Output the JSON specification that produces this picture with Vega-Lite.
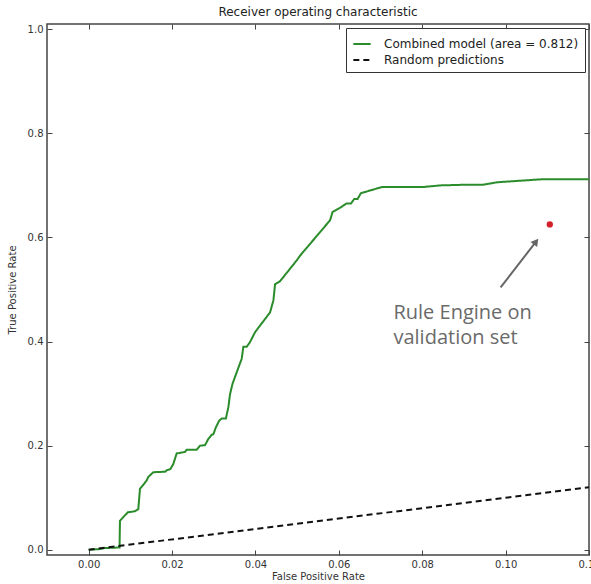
{
  "$schema": "https://vega.github.io/schema/vega-lite/v6.json",
  "autosize": "none",
  "width": 542,
  "height": 531,
  "padding": {"left": 47, "top": 24, "right": 2, "bottom": 29},
  "background": "white",
  "title": {"text": "Receiver operating characteristic", "fontSize": 12, "font": "DejaVu Sans", "fontWeight": "normal", "color": "#222", "offset": 5},
  "config": {
    "view": {"stroke": "#444", "strokeWidth": 1.5},
    "axis": {"grid": false, "domain": false, "tickColor": "#444", "tickSize": -5, "labelFont": "DejaVu Sans", "labelFontSize": 10, "labelColor": "#333", "titleFont": "DejaVu Sans", "titleFontSize": 10, "titleFontWeight": "normal", "titleColor": "#333"}
  },
  "datasets": {
    "roc": [
      {"series": "Combined model (area = 0.812)", "i": 0, "fpr": 0.0, "tpr": 0.0},
      {"series": "Combined model (area = 0.812)", "i": 1, "fpr": 0.0026, "tpr": 0.0013},
      {"series": "Combined model (area = 0.812)", "i": 2, "fpr": 0.0038, "tpr": 0.0033},
      {"series": "Combined model (area = 0.812)", "i": 3, "fpr": 0.0074, "tpr": 0.0044},
      {"series": "Combined model (area = 0.812)", "i": 4, "fpr": 0.0075, "tpr": 0.0558},
      {"series": "Combined model (area = 0.812)", "i": 5, "fpr": 0.0082, "tpr": 0.062},
      {"series": "Combined model (area = 0.812)", "i": 6, "fpr": 0.0094, "tpr": 0.072},
      {"series": "Combined model (area = 0.812)", "i": 7, "fpr": 0.0111, "tpr": 0.074},
      {"series": "Combined model (area = 0.812)", "i": 8, "fpr": 0.0119, "tpr": 0.078},
      {"series": "Combined model (area = 0.812)", "i": 9, "fpr": 0.0123, "tpr": 0.117},
      {"series": "Combined model (area = 0.812)", "i": 10, "fpr": 0.0131, "tpr": 0.125},
      {"series": "Combined model (area = 0.812)", "i": 11, "fpr": 0.0139, "tpr": 0.133},
      {"series": "Combined model (area = 0.812)", "i": 12, "fpr": 0.0143, "tpr": 0.14},
      {"series": "Combined model (area = 0.812)", "i": 13, "fpr": 0.0155, "tpr": 0.149},
      {"series": "Combined model (area = 0.812)", "i": 14, "fpr": 0.0183, "tpr": 0.15},
      {"series": "Combined model (area = 0.812)", "i": 15, "fpr": 0.0188, "tpr": 0.153},
      {"series": "Combined model (area = 0.812)", "i": 16, "fpr": 0.0196, "tpr": 0.155},
      {"series": "Combined model (area = 0.812)", "i": 17, "fpr": 0.0203, "tpr": 0.165},
      {"series": "Combined model (area = 0.812)", "i": 18, "fpr": 0.0211, "tpr": 0.185},
      {"series": "Combined model (area = 0.812)", "i": 19, "fpr": 0.0231, "tpr": 0.188},
      {"series": "Combined model (area = 0.812)", "i": 20, "fpr": 0.0235, "tpr": 0.192},
      {"series": "Combined model (area = 0.812)", "i": 21, "fpr": 0.0259, "tpr": 0.192},
      {"series": "Combined model (area = 0.812)", "i": 22, "fpr": 0.0267, "tpr": 0.2},
      {"series": "Combined model (area = 0.812)", "i": 23, "fpr": 0.0279, "tpr": 0.201},
      {"series": "Combined model (area = 0.812)", "i": 24, "fpr": 0.0287, "tpr": 0.213},
      {"series": "Combined model (area = 0.812)", "i": 25, "fpr": 0.0295, "tpr": 0.221},
      {"series": "Combined model (area = 0.812)", "i": 26, "fpr": 0.0299, "tpr": 0.222},
      {"series": "Combined model (area = 0.812)", "i": 27, "fpr": 0.0305, "tpr": 0.235},
      {"series": "Combined model (area = 0.812)", "i": 28, "fpr": 0.0313, "tpr": 0.248},
      {"series": "Combined model (area = 0.812)", "i": 29, "fpr": 0.0319, "tpr": 0.252},
      {"series": "Combined model (area = 0.812)", "i": 30, "fpr": 0.0329, "tpr": 0.252},
      {"series": "Combined model (area = 0.812)", "i": 31, "fpr": 0.0335, "tpr": 0.274},
      {"series": "Combined model (area = 0.812)", "i": 32, "fpr": 0.0339, "tpr": 0.299},
      {"series": "Combined model (area = 0.812)", "i": 33, "fpr": 0.0345, "tpr": 0.319},
      {"series": "Combined model (area = 0.812)", "i": 34, "fpr": 0.0355, "tpr": 0.341},
      {"series": "Combined model (area = 0.812)", "i": 35, "fpr": 0.0367, "tpr": 0.367},
      {"series": "Combined model (area = 0.812)", "i": 36, "fpr": 0.0371, "tpr": 0.39},
      {"series": "Combined model (area = 0.812)", "i": 37, "fpr": 0.0379, "tpr": 0.39},
      {"series": "Combined model (area = 0.812)", "i": 38, "fpr": 0.0387, "tpr": 0.399},
      {"series": "Combined model (area = 0.812)", "i": 39, "fpr": 0.0399, "tpr": 0.418},
      {"series": "Combined model (area = 0.812)", "i": 40, "fpr": 0.0435, "tpr": 0.456},
      {"series": "Combined model (area = 0.812)", "i": 41, "fpr": 0.0443, "tpr": 0.479},
      {"series": "Combined model (area = 0.812)", "i": 42, "fpr": 0.0447, "tpr": 0.51},
      {"series": "Combined model (area = 0.812)", "i": 43, "fpr": 0.0459, "tpr": 0.516},
      {"series": "Combined model (area = 0.812)", "i": 44, "fpr": 0.0499, "tpr": 0.556},
      {"series": "Combined model (area = 0.812)", "i": 45, "fpr": 0.0507, "tpr": 0.565},
      {"series": "Combined model (area = 0.812)", "i": 46, "fpr": 0.0579, "tpr": 0.633},
      {"series": "Combined model (area = 0.812)", "i": 47, "fpr": 0.0585, "tpr": 0.649},
      {"series": "Combined model (area = 0.812)", "i": 48, "fpr": 0.0603, "tpr": 0.657},
      {"series": "Combined model (area = 0.812)", "i": 49, "fpr": 0.0618, "tpr": 0.665},
      {"series": "Combined model (area = 0.812)", "i": 50, "fpr": 0.0629, "tpr": 0.665},
      {"series": "Combined model (area = 0.812)", "i": 51, "fpr": 0.0637, "tpr": 0.674},
      {"series": "Combined model (area = 0.812)", "i": 52, "fpr": 0.0645, "tpr": 0.674},
      {"series": "Combined model (area = 0.812)", "i": 53, "fpr": 0.0653, "tpr": 0.685},
      {"series": "Combined model (area = 0.812)", "i": 54, "fpr": 0.0704, "tpr": 0.697},
      {"series": "Combined model (area = 0.812)", "i": 55, "fpr": 0.0804, "tpr": 0.697},
      {"series": "Combined model (area = 0.812)", "i": 56, "fpr": 0.0844, "tpr": 0.7},
      {"series": "Combined model (area = 0.812)", "i": 57, "fpr": 0.0892, "tpr": 0.701},
      {"series": "Combined model (area = 0.812)", "i": 58, "fpr": 0.0944, "tpr": 0.701},
      {"series": "Combined model (area = 0.812)", "i": 59, "fpr": 0.098, "tpr": 0.706},
      {"series": "Combined model (area = 0.812)", "i": 60, "fpr": 0.1092, "tpr": 0.712},
      {"series": "Combined model (area = 0.812)", "i": 61, "fpr": 0.125, "tpr": 0.712},
      {"series": "Random predictions", "i": 0, "fpr": 0.0, "tpr": 0.0},
      {"series": "Random predictions", "i": 1, "fpr": 0.125, "tpr": 0.125}
    ],
    "rule_engine": [{"fpr": 0.1106, "tpr": 0.625}],
    "arrow": [{"fpr": 0.0988, "tpr": 0.504, "fpr2": 0.1073, "tpr2": 0.592}],
    "notes": [
      {"label": "Rule Engine on", "fpr": 0.0731, "tpr": 0.454},
      {"label": "validation set", "fpr": 0.0731, "tpr": 0.406}
    ]
  },
  "layer": [
    {
      "layer": [
        {
          "data": {"name": "roc"},
          "mark": {"type": "line", "clip": true, "strokeWidth": 2, "interpolate": "linear"},
          "encoding": {
            "x": {"field": "fpr", "type": "quantitative", "scale": {"domain": [-0.01, 0.12], "nice": false, "zero": false}, "axis": {"title": "False Positive Rate", "values": [0, 0.02, 0.04, 0.06, 0.08, 0.1, 0.12], "format": ".2f", "labelPadding": 9, "titlePadding": 2, "labelFlush": false}},
            "y": {"field": "tpr", "type": "quantitative", "scale": {"domain": [-0.01, 1.01], "nice": false, "zero": false}, "axis": {"title": "True Positive Rate", "values": [0, 0.2, 0.4, 0.6, 0.8, 1.0], "format": ".1f", "labelPadding": 9, "titlePadding": 10, "labelFlush": false}},
            "order": {"field": "i", "type": "quantitative"},
            "color": {"field": "series", "type": "nominal", "title": null, "scale": {"domain": ["Combined model (area = 0.812)", "Random predictions"], "range": ["#2a8c2a", "#111111"]}, "legend": {"orient": "top-right", "offset": 4, "strokeColor": "#333", "fillColor": "white", "padding": 6, "labelFont": "DejaVu Sans", "labelFontSize": 12, "labelColor": "#222", "labelLimit": 0, "symbolType": "stroke", "symbolSize": 300, "symbolStrokeWidth": 2, "rowPadding": 0, "labelOffset": 12}},
            "strokeDash": {"field": "series", "type": "nominal", "title": null, "scale": {"domain": ["Combined model (area = 0.812)", "Random predictions"], "range": [[1, 0], [6, 4]]}}
          }
        },
        {
          "data": {"name": "arrow"},
          "mark": {"type": "rule", "color": "#666666", "strokeWidth": 2},
          "encoding": {
            "x": {"field": "fpr", "type": "quantitative"},
            "y": {"field": "tpr", "type": "quantitative"},
            "x2": {"field": "fpr2"},
            "y2": {"field": "tpr2"}
          }
        },
        {
          "data": {"name": "arrow"},
          "mark": {"type": "point", "shape": "triangle-up", "filled": true, "color": "#666666", "size": 70, "angle": 38, "opacity": 1},
          "encoding": {
            "x": {"field": "fpr2", "type": "quantitative"},
            "y": {"field": "tpr2", "type": "quantitative"}
          }
        },
        {
          "data": {"name": "rule_engine"},
          "mark": {"type": "circle", "color": "#d4202a", "size": 40, "opacity": 1},
          "encoding": {
            "x": {"field": "fpr", "type": "quantitative"},
            "y": {"field": "tpr", "type": "quantitative"}
          }
        },
        {
          "data": {"name": "notes"},
          "mark": {"type": "text", "align": "left", "baseline": "middle", "font": "Open Sans", "fontSize": 20, "color": "#6a6a6a"},
          "encoding": {
            "x": {"field": "fpr", "type": "quantitative"},
            "y": {"field": "tpr", "type": "quantitative"},
            "text": {"field": "label"}
          }
        }
      ]
    },
    {
      "data": {"name": "rule_engine"},
      "mark": {"type": "point", "opacity": 0},
      "encoding": {
        "x": {"field": "fpr", "type": "quantitative", "axis": {"orient": "top", "labels": false, "title": null, "values": [0, 0.02, 0.04, 0.06, 0.08, 0.1, 0.12]}},
        "y": {"field": "tpr", "type": "quantitative", "axis": {"orient": "right", "labels": false, "title": null, "values": [0, 0.2, 0.4, 0.6, 0.8, 1.0]}}
      }
    }
  ],
  "resolve": {"axis": {"x": "independent", "y": "independent"}}
}
